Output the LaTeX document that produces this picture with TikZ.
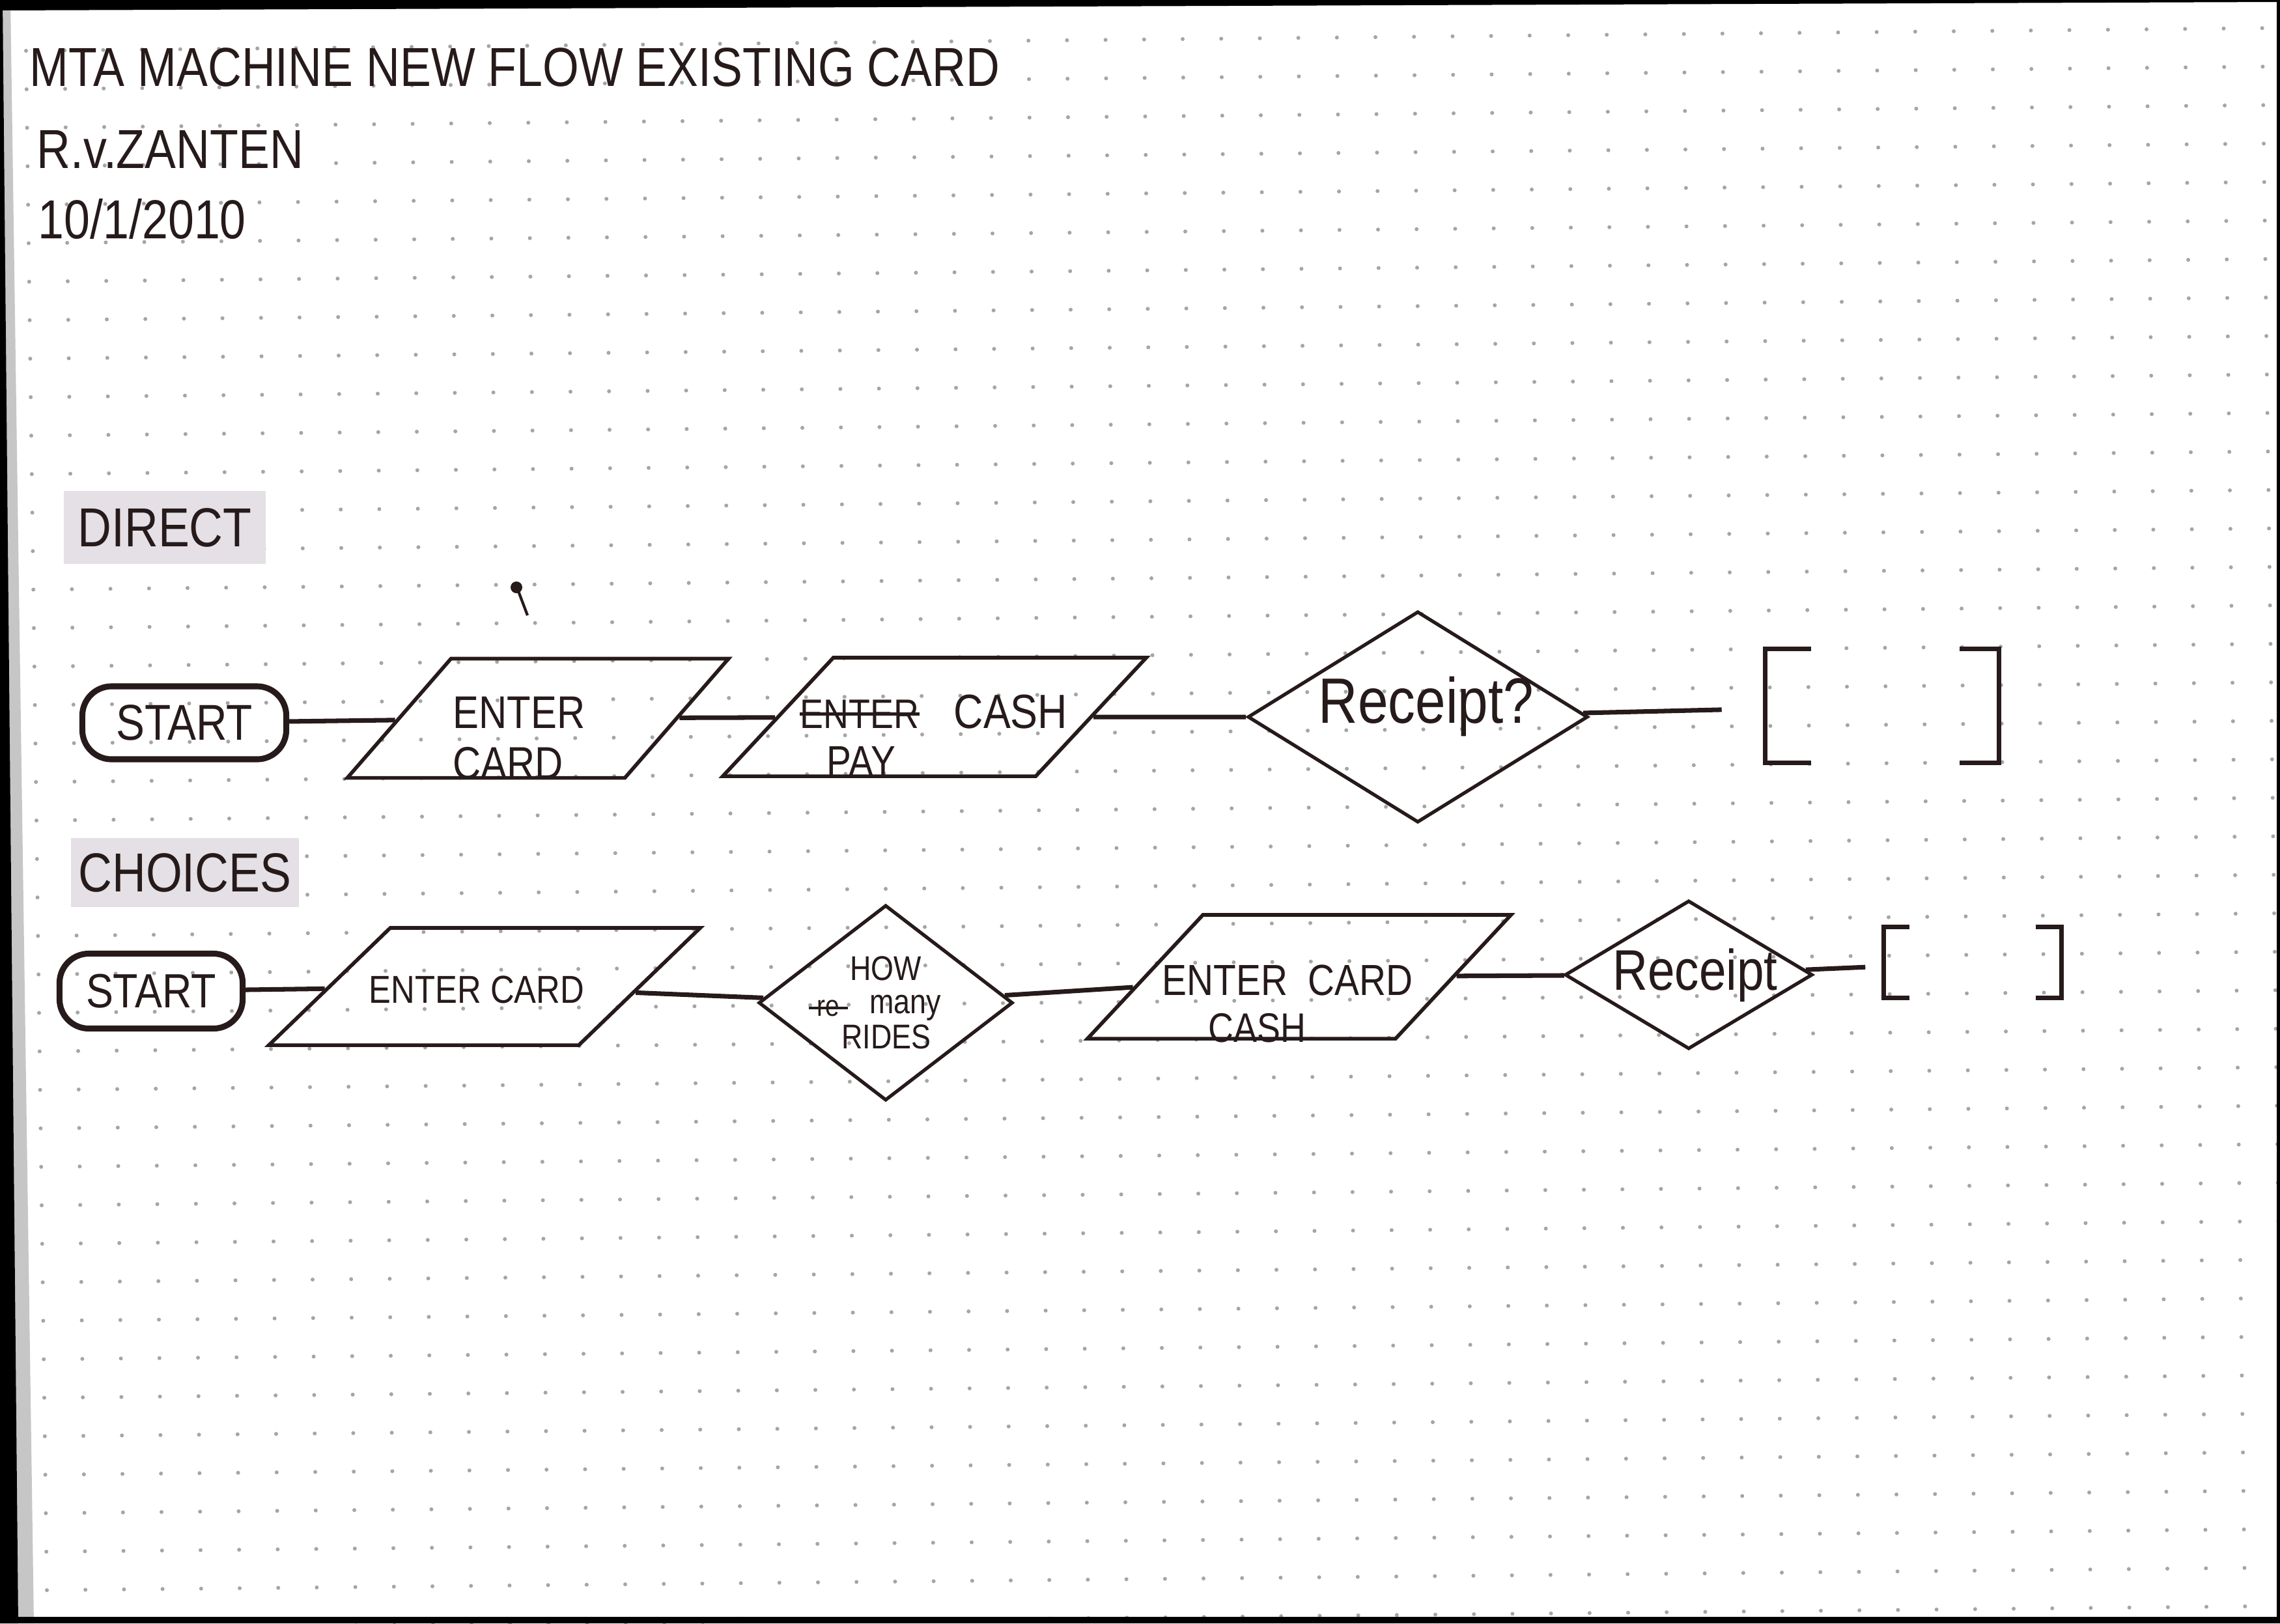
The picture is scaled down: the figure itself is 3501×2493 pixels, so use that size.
\documentclass[tikz,border=0pt]{standalone}
\usepackage{fontspec}
\setmainfont{Liberation Sans}[FakeStretch=0.85]
\usetikzlibrary{shapes.geometric}
\definecolor{ink}{RGB}{38,26,26}
\definecolor{marker}{RGB}{228,224,229}
\definecolor{dotgray}{RGB}{165,165,165}
\tikzset{
  startbox/.style={draw=ink, line width=2.6pt, rounded corners=0.45cm, inner sep=0pt, font=\fontsize{22}{24}\selectfont},
  card/.style={draw=ink, line width=1.6pt, trapezium, trapezium left angle=47, trapezium right angle=133, trapezium stretches body, inner sep=0pt},
  choice/.style={draw=ink, line width=1.5pt, diamond, inner sep=0pt},
  endbox/.style={inner sep=0pt},
  flow/.style={draw=ink, line width=2pt},
  strike/.style={draw=ink, line width=1.4pt},
  word/.style={anchor=base west, inner sep=0pt},
  heading/.style={fill=marker, inner sep=0pt, font=\fontsize{24}{26}\selectfont},
  note/.style={anchor=base west, inner sep=0pt, font=\fontsize{24}{26}\selectfont}
}
\begin{document}
\begin{tikzpicture}[x=0.01cm, y=-0.01cm, every node/.append style={text=ink}]
    \useasboundingbox (0,0) rectangle (3501,2493);
    \fill[white] (0,0) rectangle (3501,2493);
    % dotted paper
    \fill[dotgray] \foreach \i in {0,...,58}{\foreach \j in {0,...,41}{({40+59.2*\i+0.8*\j},{78-0.6*\i+59.1*\j}) circle[radius=0.3mm]}};
    % scan edges
    \fill[gray!45] (0,0) -- (16,0) -- (52,2493) -- (0,2493) -- cycle;
    \fill[black] (0,0) -- (4,0) -- (28,2493) -- (0,2493) -- cycle;
    \fill[black] (0,0) -- (3501,0) -- (3501,3) -- (0,16) -- cycle;
    \fill[black] (3496,0) rectangle (3501,2493);
    \fill[black] (0,2483) rectangle (3501,2493);

    \node[note] (title) at (45,132) {MTA MACHINE NEW FLOW EXISTING CARD};
    \node[note] (author) at (56,258) {R.v.ZANTEN};
    \node[note] (date) at (58,366) {10/1/2010};

    \node[heading, minimum width=3.1cm, minimum height=1.12cm] (direct) at (253,810) {DIRECT};
    \node[heading, minimum width=3.5cm, minimum height=1.06cm] (choices) at (284,1340) {CHOICES};

    \fill[ink] (793,902) circle[radius=0.9mm];
    \draw[ink, line width=1.2pt] (796,908) -- (810,945);

    % direct
    \node[startbox, minimum width=3.13cm, minimum height=1.12cm] (start1) at (283,1110) {START};
    \node[card, minimum width=5.85cm, trapezium left angle=49, trapezium right angle=131] (card1) at (826,1103) {\rule[-9.15mm]{0pt}{18.3mm}};
    \node[word, font=\fontsize{20}{22}\selectfont] (card1a) at (695,1118) {ENTER};
    \node[word, font=\fontsize{20}{22}\selectfont] (card1b) at (695,1196) {CARD};
    \node[card, minimum width=6.5cm] (cash1) at (1435,1101) {\rule[-9.1mm]{0pt}{18.2mm}};
    \node[word, font=\fontsize{18}{20}\selectfont] (cash1old) at (1228,1118) {ENTER};
    \node[word, font=\fontsize{21}{23}\selectfont] (cash1txt) at (1464,1118) {CASH};
    \node[word, font=\fontsize{19}{21}\selectfont] (cash1pay) at (1269,1192) {PAY};
    \draw[strike] (cash1old.west) -- (cash1old.east);
    \node[choice, minimum width=5.22cm, minimum height=3.24cm] (dec1) at (2177,1101) {};
    \node[font=\fontsize{28}{30}\selectfont] (dec1txt) at (2190,1085) {Receipt?};
    \node[endbox, minimum width=3.57cm, minimum height=1.73cm] (end1) at (2890,1084) {};
    \draw[flow] ([xshift=7mm]end1.north west) -- (end1.north west) -- (end1.south west) -- ([xshift=7mm]end1.south west);
    \draw[flow] ([xshift=-6mm]end1.north east) -- (end1.north east) -- (end1.south east) -- ([xshift=-6mm]end1.south east);

    \draw[flow] (start1) -- (card1);
    \draw[flow] (card1) -- (cash1);
    \draw[flow] (cash1) -- (dec1);
    \draw[flow, shorten >=0.67cm] (dec1) -- (end1);

    % choices
    \node[startbox, minimum width=2.81cm, minimum height=1.15cm, font=\fontsize{21}{23}\selectfont] (start2) at (232,1522) {START};
    \node[card, minimum width=6.62cm, trapezium left angle=44, trapezium right angle=136] (card2) at (744,1515) {\rule[-9mm]{0pt}{18mm}};
    \node[font=\fontsize{17}{19}\selectfont] (card2txt) at (732,1520) {ENTER CARD};
    \node[choice, minimum width=3.9cm, minimum height=3.0cm] (dec2) at (1360,1540) {};
    \node[font=\fontsize{15}{15}\selectfont] (dec2how) at (1360,1487) {HOW};
    \node[font=\fontsize{13}{15}\selectfont] (dec2old) at (1272,1548) {re};
    \node[font=\fontsize{15}{15}\selectfont] (dec2many) at (1390,1548) {many};
    \node[font=\fontsize{15}{15}\selectfont] (dec2rides) at (1361,1592) {RIDES};
    \draw[strike] (dec2old.west) -- (dec2old.east);
    \node[card, minimum width=6.5cm] (card3) at (1995,1500) {\rule[-9.5mm]{0pt}{19mm}};
    \node[word, font=\fontsize{19}{21}\selectfont] (card3a) at (1784,1528) {ENTER~~CARD};
    \node[word, font=\fontsize{18}{20}\selectfont] (card3b) at (1855,1600) {CASH};
    \node[choice, minimum width=3.8cm, minimum height=2.28cm] (dec3) at (2593,1497) {};
    \node[font=\fontsize{25}{27}\selectfont] (dec3txt) at (2603,1498) {Receipt};
    \node[endbox, minimum width=2.72cm, minimum height=1.08cm] (end2) at (3029,1478) {};
    \draw[flow] ([xshift=4mm]end2.north west) -- (end2.north west) -- (end2.south west) -- ([xshift=4mm]end2.south west);
    \draw[flow] ([xshift=-4mm]end2.north east) -- (end2.north east) -- (end2.south east) -- ([xshift=-4mm]end2.south east);

    \draw[flow] (start2) -- (card2);
    \draw[flow] (card2) -- (dec2);
    \draw[flow] (dec2) -- (card3);
    \draw[flow] (card3) -- (dec3);
    \draw[flow, shorten >=0.28cm] (dec3) -- (end2);
\end{tikzpicture}
\end{document}
